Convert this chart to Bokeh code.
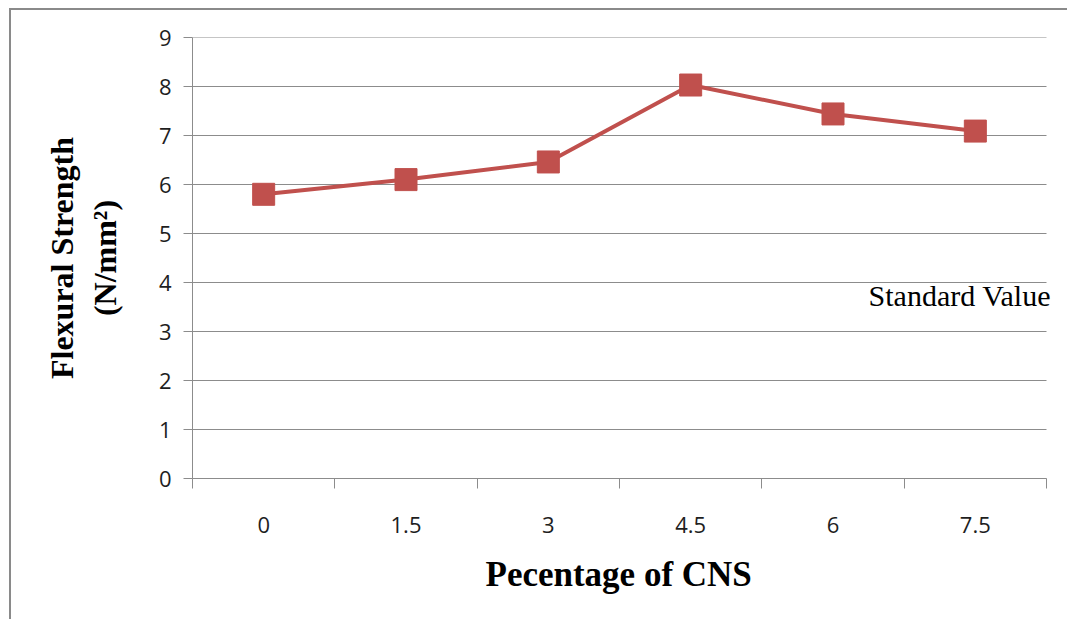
from bokeh.plotting import figure
from bokeh.models import FixedTicker, LinearAxis, Range1d, Label, Title, ColumnDataSource
from bokeh.embed import file_html
from bokeh.resources import INLINE

# CNS replacement levels (%) and measured flexural strength (N/mm²)
categories = ["0", "1.5", "3", "4.5", "6", "7.5"]
strength = [5.80, 6.10, 6.46, 8.03, 7.44, 7.09]
y_ticks = [0, 1, 2, 3, 4, 5, 6, 7, 8, 9]
standard_label = "Standard Value"
standard_pos = (4.75, 3.73)
x_title = "Pecentage of CNS"

RED = "#C0504D"
GRID = "#8C8C8C"
TICK_FONT = "Open Sans"
TITLE_FONT = "Liberation Serif"

n = len(categories)
centers = [i + 0.5 for i in range(n)]
source = ColumnDataSource(data=dict(x=centers, y=strength))

# plot body is 854px wide for the categories; the frame runs on to the
# right edge so the annotation text is not cut off
x_end = n * 877 / 854

p = figure(
    width=1058, height=611,
    x_range=Range1d(0, x_end), y_range=Range1d(0, 9),
    output_backend="svg", toolbar_location=None,
    min_border_left=181, min_border_right=0,
    min_border_top=27, min_border_bottom=143,
    outline_line_color=None,
)
p.styles = {
    "margin-left": "9px", "margin-top": "8px",
    "border-top": "2px solid #8A8A8A", "border-left": "2px solid #8A8A8A",
}

# x axis: labels at category centres, tick marks between categories
xa = p.xaxis[0]
xa.bounds = (0, n)
xa.ticker = FixedTicker(ticks=centers, minor_ticks=list(range(n + 1)))
xa.major_label_overrides = {c: lab for c, lab in zip(centers, categories)}
xa.major_tick_out = 0
xa.major_tick_in = 0
xa.minor_tick_out = 10
xa.minor_tick_in = 0
xa.minor_tick_line_color = GRID
xa.axis_line_color = GRID
xa.major_label_text_font = TICK_FONT
xa.major_label_text_font_size = "22px"
xa.major_label_text_color = "#1E1E1E"
xa.major_label_standoff = 28

# x title, centred under the category span
p.add_layout(Title(
    text=x_title, align="left", offset=293, standoff=34,
    text_font=TITLE_FONT, text_font_style="bold", text_font_size="35px",
    text_color="#000000",
), "below")

# y axis
ya = p.yaxis[0]
ya.ticker = FixedTicker(ticks=y_ticks)
ya.major_tick_out = 9
ya.major_tick_in = 0
ya.minor_tick_line_color = None
ya.major_tick_line_color = GRID
ya.axis_line_color = GRID
ya.major_label_text_font = TICK_FONT
ya.major_label_text_font_size = "22px"
ya.major_label_text_color = "#1E1E1E"
ya.major_label_standoff = 12
ya.axis_label = "(N/mm²)"
ya.axis_label_text_font = TITLE_FONT
ya.axis_label_text_font_style = "bold"
ya.axis_label_text_font_size = "32px"
ya.axis_label_text_color = "#000000"
ya.axis_label_standoff = 33

# outer line of the two-line y title
ya2 = LinearAxis(
    ticker=FixedTicker(ticks=[]), axis_line_color=None,
    major_tick_out=0, major_tick_in=0, minor_tick_out=0, minor_tick_in=0,
    major_label_standoff=0,
    axis_label="Flexural Strength", axis_label_text_font=TITLE_FONT,
    axis_label_text_font_style="bold", axis_label_text_font_size="32px",
    axis_label_text_color="#000000", axis_label_standoff=4,
)
p.add_layout(ya2, "left")

# horizontal gridlines limited to the category span
p.xgrid.grid_line_color = None
p.ygrid.grid_line_color = None
p.segment(x0=[0] * len(y_ticks), x1=[n] * len(y_ticks), y0=y_ticks, y1=y_ticks,
          line_color=GRID, line_width=1)

p.line("x", "y", source=source, line_color=RED, line_width=4)
p.scatter("x", "y", source=source, marker="square", size=22,
          fill_color=RED, line_color=RED)

p.add_layout(Label(
    x=standard_pos[0], y=standard_pos[1], text=standard_label,
    text_font=TITLE_FONT, text_font_size="30px", text_color="#000000",
    text_baseline="middle",
))

open("out.html", "w").write(file_html(p, INLINE))
